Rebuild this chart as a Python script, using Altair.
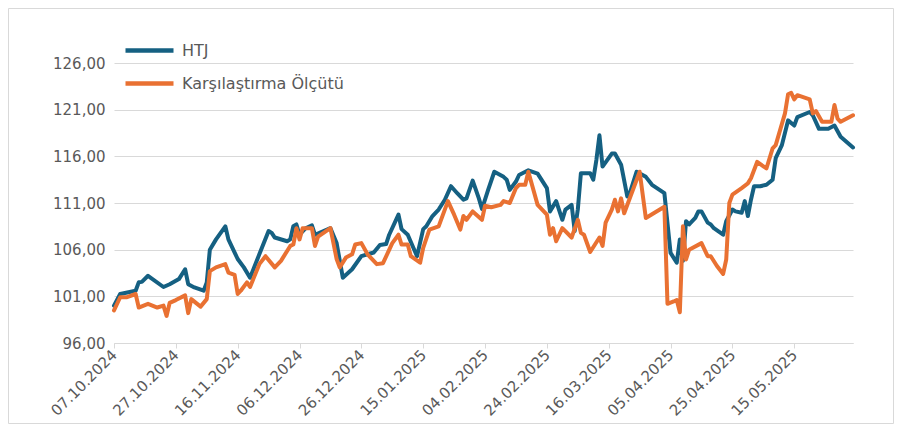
import altair as alt
import pandas as pd

SER_HTJ = "HTJ"
SER_BENCH = "Karşılaştırma Ölçütü"

htj_dates = [
    "2024-10-07", "2024-10-09", "2024-10-14", "2024-10-15", "2024-10-16", "2024-10-18", "2024-10-23", "2024-10-25", "2024-10-28", "2024-10-30",
    "2024-10-31", "2024-11-02", "2024-11-05", "2024-11-06", "2024-11-07", "2024-11-09", "2024-11-12", "2024-11-13", "2024-11-16", "2024-11-18",
    "2024-11-20", "2024-11-23", "2024-11-26", "2024-11-27", "2024-11-28", "2024-12-02", "2024-12-03", "2024-12-04", "2024-12-05", "2024-12-06",
    "2024-12-08", "2024-12-10", "2024-12-11", "2024-12-16", "2024-12-18", "2024-12-20", "2024-12-23", "2024-12-26", "2024-12-30", "2025-01-01",
    "2025-01-03", "2025-01-04", "2025-01-07", "2025-01-08", "2025-01-10", "2025-01-13", "2025-01-15", "2025-01-16", "2025-01-18", "2025-01-20",
    "2025-01-22", "2025-01-24", "2025-01-26", "2025-01-28", "2025-01-29", "2025-01-31", "2025-02-02", "2025-02-03", "2025-02-05", "2025-02-07",
    "2025-02-10", "2025-02-11", "2025-02-12", "2025-02-14", "2025-02-15", "2025-02-18", "2025-02-21", "2025-02-24", "2025-02-25", "2025-02-27",
    "2025-03-01", "2025-03-02", "2025-03-04", "2025-03-05", "2025-03-06", "2025-03-07", "2025-03-10", "2025-03-11", "2025-03-12", "2025-03-13",
    "2025-03-14", "2025-03-17", "2025-03-18", "2025-03-20", "2025-03-22", "2025-03-23", "2025-03-25", "2025-03-28", "2025-03-30", "2025-04-03",
    "2025-04-05", "2025-04-07", "2025-04-08", "2025-04-09", "2025-04-10", "2025-04-11", "2025-04-13", "2025-04-14", "2025-04-15", "2025-04-17",
    "2025-04-18", "2025-04-19", "2025-04-22", "2025-04-23", "2025-04-25", "2025-04-26", "2025-04-28", "2025-04-29", "2025-04-30", "2025-05-01",
    "2025-05-02", "2025-05-04", "2025-05-06", "2025-05-08", "2025-05-09", "2025-05-11", "2025-05-13", "2025-05-15", "2025-05-16", "2025-05-20",
    "2025-05-21", "2025-05-23", "2025-05-26", "2025-05-28", "2025-05-30", "2025-06-03",
]
htj_values = [
    100.0, 101.25, 101.6, 102.5, 102.55, 103.2, 102.0, 102.3, 102.85, 103.9,
    102.3, 101.95, 101.6, 102.5, 106.0, 107.1, 108.5, 107.1, 105.0, 104.1,
    103.0, 105.5, 108.0, 107.8, 107.3, 106.9, 107.1, 108.5, 108.7, 107.6,
    108.3, 108.6, 107.6, 108.3, 106.7, 103.0, 103.9, 105.3, 105.7, 106.5,
    106.6, 107.6, 109.75, 108.2, 107.6, 105.3, 108.2, 108.5, 109.6, 110.3,
    111.35, 112.8, 112.05, 111.35, 111.5, 113.4, 111.5, 110.35, 112.4, 114.35,
    113.8, 113.5, 112.4, 113.3, 114.0, 114.5, 114.15, 112.6, 110.1, 111.2,
    109.2, 110.3, 110.8, 108.0, 110.3, 114.2, 114.2, 113.5, 115.6, 118.25,
    114.9, 116.3, 116.3, 115.1, 111.7, 112.25, 114.35, 113.8, 112.95, 112.05,
    105.65, 104.6, 107.1, 104.8, 109.05, 108.7, 109.4, 110.1, 110.1, 108.9,
    108.7, 108.3, 107.6, 109.05, 110.3, 110.1, 109.95, 111.2, 109.6, 111.35,
    112.8, 112.8, 112.95, 113.5, 115.8, 117.2, 119.85, 119.3, 120.2, 120.75,
    120.4, 118.95, 118.95, 119.3, 118.1, 116.95,
]

bench_dates = [
    "2024-10-07", "2024-10-09", "2024-10-11", "2024-10-14", "2024-10-15", "2024-10-18", "2024-10-21", "2024-10-23", "2024-10-24", "2024-10-25",
    "2024-10-27", "2024-10-30", "2024-10-31", "2024-11-01", "2024-11-04", "2024-11-06", "2024-11-07", "2024-11-09", "2024-11-12", "2024-11-13",
    "2024-11-15", "2024-11-16", "2024-11-17", "2024-11-19", "2024-11-20", "2024-11-23", "2024-11-25", "2024-11-28", "2024-11-30", "2024-12-03",
    "2024-12-04", "2024-12-05", "2024-12-06", "2024-12-07", "2024-12-10", "2024-12-11", "2024-12-12", "2024-12-16", "2024-12-18", "2024-12-19",
    "2024-12-21", "2024-12-23", "2024-12-24", "2024-12-26", "2024-12-28", "2024-12-31", "2025-01-02", "2025-01-05", "2025-01-07", "2025-01-08",
    "2025-01-10", "2025-01-11", "2025-01-14", "2025-01-15", "2025-01-17", "2025-01-20", "2025-01-23", "2025-01-25", "2025-01-27", "2025-01-28",
    "2025-01-29", "2025-01-31", "2025-02-03", "2025-02-04", "2025-02-06", "2025-02-09", "2025-02-10", "2025-02-12", "2025-02-14", "2025-02-15",
    "2025-02-17", "2025-02-18", "2025-02-21", "2025-02-24", "2025-02-25", "2025-02-26", "2025-02-27", "2025-03-01", "2025-03-04", "2025-03-06",
    "2025-03-07", "2025-03-08", "2025-03-10", "2025-03-13", "2025-03-14", "2025-03-15", "2025-03-17", "2025-03-18", "2025-03-19", "2025-03-20",
    "2025-03-21", "2025-03-26", "2025-03-28", "2025-04-03", "2025-04-04", "2025-04-06", "2025-04-07", "2025-04-08", "2025-04-09", "2025-04-10",
    "2025-04-11", "2025-04-15", "2025-04-17", "2025-04-18", "2025-04-20", "2025-04-22", "2025-04-23", "2025-04-24", "2025-04-25", "2025-04-28",
    "2025-04-30", "2025-05-01", "2025-05-03", "2025-05-06", "2025-05-08", "2025-05-09", "2025-05-12", "2025-05-13", "2025-05-14", "2025-05-15",
    "2025-05-16", "2025-05-20", "2025-05-21", "2025-05-22", "2025-05-24", "2025-05-27", "2025-05-28", "2025-05-29", "2025-05-30", "2025-06-03",
]
bench_values = [
    99.5, 100.9, 100.9, 101.25, 99.8, 100.2, 99.8, 100.0, 98.9, 100.3,
    100.6, 101.1, 99.2, 100.7, 99.9, 100.7, 103.7, 104.1, 104.45, 103.55,
    103.3, 101.25, 101.6, 102.5, 102.0, 104.45, 105.3, 104.1, 104.8, 106.4,
    106.55, 108.3, 107.1, 108.3, 108.3, 106.4, 107.4, 108.3, 105.0, 104.1,
    105.15, 105.5, 106.55, 106.7, 105.5, 104.45, 104.55, 106.7, 107.6, 106.55,
    106.55, 105.3, 104.6, 106.2, 108.15, 108.5, 111.2, 109.75, 108.15, 109.6,
    109.2, 110.1, 109.2, 110.7, 110.55, 110.8, 111.2, 111.0, 112.6, 112.95,
    112.95, 114.35, 110.8, 109.75, 107.6, 108.3, 106.9, 108.3, 107.3, 109.2,
    107.8, 107.6, 105.75, 107.3, 106.4, 108.9, 110.3, 111.35, 110.1, 111.5,
    109.9, 114.35, 109.4, 110.6, 100.2, 100.45, 100.6, 99.3, 108.5, 104.95,
    106.0, 106.7, 105.3, 105.3, 104.25, 103.4, 104.95, 111.0, 111.9, 112.6,
    113.1, 113.65, 115.4, 114.7, 116.85, 117.2, 120.6, 122.65, 122.8, 122.1,
    122.55, 122.1, 120.6, 120.85, 119.7, 119.7, 121.5, 120.05, 119.7, 120.4,
]

y_ticks = [96, 101, 106, 111, 116, 121, 126]
x_tick_labels = [
    "07.10.2024", "27.10.2024", "16.11.2024", "06.12.2024", "26.12.2024", "15.01.2025",
    "04.02.2025", "24.02.2025", "16.03.2025", "05.04.2025", "25.04.2025", "15.05.2025",
]
x_start = "07.10.2024"
x_end = "03.06.2025"

BLUE = "#156082"
ORANGE = "#E97132"
GREY_TEXT = "#595959"
GRID = "#D9D9D9"
FONT = "DejaVu Sans"


def dt(s):
    d, m, y = s.split(".")
    return alt.DateTime(year=int(y), month=int(m), date=int(d), utc=True)


df = pd.concat([
    pd.DataFrame({"date": htj_dates, "value": htj_values, "series": SER_HTJ}),
    pd.DataFrame({"date": bench_dates, "value": bench_values, "series": SER_BENCH}),
], ignore_index=True)

x_enc = alt.X(
    "date:T",
    scale=alt.Scale(type="utc", domain=[dt(x_start), dt(x_end)]),
    axis=alt.Axis(
        values=[dt(s) for s in x_tick_labels],
        format="%d.%m.%Y",
        labelAngle=-45,
        labelAlign="right",
        labelBaseline="middle",
        labelPadding=4,
        labelFontSize=15,
        labelFont=FONT,
        labelColor=GREY_TEXT,
        grid=False,
        domainColor=GRID,
        tickColor=GRID,
        tickSize=5,
        labelOverlap=False,
        labelFlush=False,
    ),
    title=None,
)
y_enc = alt.Y(
    "value:Q",
    scale=alt.Scale(domain=[96, 126], nice=False, zero=False),
    axis=alt.Axis(
        values=y_ticks,
        labelExpr="replace(format(datum.value, '.2f'), '.', ',')",
        labelPadding=9,
        labelFontSize=15,
        labelFont=FONT,
        labelColor=GREY_TEXT,
        grid=True,
        gridColor=GRID,
        domain=False,
        ticks=False,
    ),
    title=None,
)
color_enc = alt.Color(
    "series:N",
    scale=alt.Scale(domain=[SER_HTJ, SER_BENCH], range=[BLUE, ORANGE]),
    legend=alt.Legend(
        title=None,
        orient="none",
        legendX=25,
        legendY=-23,
        direction="vertical",
        symbolType="M-3,0H3",
        symbolSize=256,
        symbolStrokeWidth=4.5,
        labelOffset=22,
        labelFontSize=16,
        labelFont=FONT,
        labelColor=GREY_TEXT,
        labelLimit=0,
        rowPadding=13,
        padding=0,
    ),
)

line_htj = alt.Chart(df).transform_filter(
    alt.datum.series == SER_HTJ
).mark_line(strokeWidth=4, strokeJoin="round", strokeCap="round").encode(
    x=x_enc, y=y_enc, color=color_enc
)
line_bench = alt.Chart(df).transform_filter(
    alt.datum.series == SER_BENCH
).mark_line(strokeWidth=4, strokeJoin="round", strokeCap="round").encode(
    x=x_enc, y=y_enc, color=color_enc
)

frame = alt.Chart(alt.Data(values=[{"k": 1}])).mark_rect(
    fillOpacity=0, stroke=GRID, strokeWidth=1
).encode(
    x=alt.value(-105.5), x2=alt.value(779.5), y=alt.value(-54.5), y2=alt.value(360.5)
)

chart = alt.layer(frame, line_htj, line_bench).properties(
    width=739,
    height=280,
    padding={"left": 106, "top": 55, "right": 41, "bottom": 81},
    autosize=alt.AutoSizeParams(type="none"),
).configure_view(stroke=None)

chart.save("out.html", embed_options={"renderer": "svg", "actions": False})
